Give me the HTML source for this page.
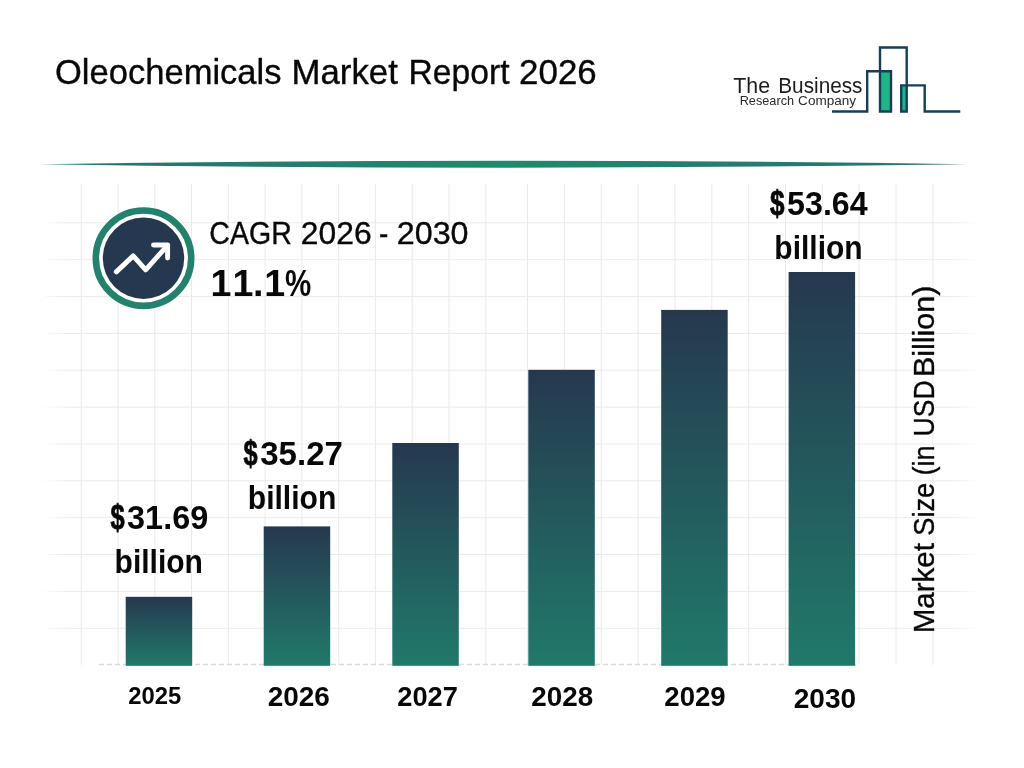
<!DOCTYPE html>
<html lang="en">
<head>
<meta charset="utf-8">
<title>Oleochemicals Market Report 2026</title>
<style>
html,body{margin:0;padding:0;background:#fff;}
body{width:1024px;height:768px;overflow:hidden;position:relative;font-family:"Liberation Sans",sans-serif;}
svg{position:absolute;left:0;top:0;display:block;}
text{font-family:"Liberation Sans",sans-serif;}
</style>
</head>
<body>
<svg width="1024" height="768" viewBox="0 0 1024 768">
<defs>
<linearGradient id="bar" x1="0" y1="0" x2="0" y2="1">
<stop offset="0" stop-color="#26384f"/>
<stop offset="1" stop-color="#21796a"/>
</linearGradient>
<linearGradient id="div" x1="0" y1="0" x2="1" y2="0">
<stop offset="0" stop-color="#2a6f70"/>
<stop offset="0.5" stop-color="#1f8a6c"/>
<stop offset="1" stop-color="#2a6f70"/>
</linearGradient>
<linearGradient id="fadeh" x1="0" y1="0" x2="1" y2="0">
<stop offset="0" stop-color="#fff" stop-opacity="1"/>
<stop offset="0.03" stop-color="#fff" stop-opacity="0"/>
<stop offset="0.97" stop-color="#fff" stop-opacity="0"/>
<stop offset="1" stop-color="#fff" stop-opacity="1"/>
</linearGradient>
</defs>
<rect width="1024" height="768" fill="#ffffff"/>

<!-- grid -->
<g id="grid" stroke="#eaeaeb" stroke-width="1" fill="none">
<path d="M44 222.8H976M44 259.7H976M44 296.5H976M44 333.4H976M44 370.2H976M44 407.1H976M44 444.0H976M44 480.8H976M44 517.7H976M44 554.5H976M44 591.4H976M44 628.3H976"/>
<path d="M81.2 184V665M118.0 184V665M154.8 184V665M191.5 184V665M228.3 184V665M265.1 184V665M301.9 184V665M338.7 184V665M375.4 184V665M412.2 184V665M449.0 184V665M485.8 184V665M932.9 184V665M896.0 184V665M859.1 184V665M822.3 184V665M785.5 184V665M748.6 184V665M711.8 184V665M674.9 184V665M638.0 184V665M601.2 184V665M564.4 184V665M527.5 184V665"/>
</g>
<rect x="40" y="180" width="940" height="490" fill="url(#fadeh)"/>
<path d="M99 664.5H856" stroke="#d9dadd" stroke-width="1.5" stroke-dasharray="5 3" fill="none"/>

<!-- divider -->
<path d="M40 164.3 Q503.5 157 967 164.3 Q503.5 171 40 164.3Z" fill="url(#div)"/>

<!-- title -->
<text y="84" font-size="35" fill="#080808" stroke="#080808" stroke-width="0.35"><tspan x="55.01" textLength="226.52" lengthAdjust="spacingAndGlyphs">Oleochemicals</tspan> <tspan x="291.51" textLength="106.36" lengthAdjust="spacingAndGlyphs">Market</tspan> <tspan x="408.58" textLength="100.98" lengthAdjust="spacingAndGlyphs">Report</tspan> <tspan x="519.1" textLength="77.67" lengthAdjust="spacingAndGlyphs">2026</tspan></text>

<!-- logo -->
<g id="logo">
<rect x="881" y="72" width="9.5" height="39" fill="#1fb585"/>
<rect x="902" y="86" width="4.5" height="25" fill="#1fb585"/>
<path d="M832 111.5H867.2V71.3H891V111.5H880V47.5H906.7V111.5H901.2V85.4H924.7V111.5H960.3" fill="none" stroke="#153f56" stroke-width="2.4" stroke-linejoin="miter"/>
<text y="92.8" font-size="22.5" fill="#1c1c1c"><tspan x="733.3" textLength="36.75" lengthAdjust="spacingAndGlyphs">The</tspan> <tspan x="778.28" textLength="84.2" lengthAdjust="spacingAndGlyphs">Business</tspan></text>
<text y="104.7" font-size="12.2" fill="#2a2a2a"><tspan x="739.66" textLength="54.43" lengthAdjust="spacingAndGlyphs">Research</tspan> <tspan x="798.1" textLength="58.0" lengthAdjust="spacingAndGlyphs">Company</tspan></text>
</g>

<!-- CAGR icon -->
<circle cx="143.5" cy="258.2" r="47.7" fill="#fff" stroke="#23816d" stroke-width="6.6"/>
<circle cx="143.5" cy="258.2" r="40.7" fill="#25384f"/>
<g fill="none" stroke="#fff" stroke-width="4.9" stroke-linecap="round" stroke-linejoin="round">
<path d="M116.3 271.9L133.2 255.9L145.7 269.8L167.6 245.3"/>
<path d="M153.5 245H167.6V258.1"/>
</g>
<text y="244.2" font-size="30.8" fill="#080808" stroke="#080808" stroke-width="0.35"><tspan x="209.37" textLength="82.36" lengthAdjust="spacingAndGlyphs">CAGR</tspan> <tspan x="300.87" textLength="70.77" lengthAdjust="spacingAndGlyphs">2026</tspan> <tspan x="379.1" textLength="9.28" lengthAdjust="spacingAndGlyphs">-</tspan> <tspan x="396.75" textLength="71.8" lengthAdjust="spacingAndGlyphs">2030</tspan></text>
<text y="295.9" font-size="37.6" font-weight="bold" fill="#080808"><tspan x="210.6">1</tspan><tspan x="232.5">1</tspan><tspan x="252.9">.</tspan><tspan x="264.3">1</tspan><tspan x="285.1" textLength="26.2" lengthAdjust="spacingAndGlyphs">%</tspan></text>

<!-- bars -->
<g fill="url(#bar)">
<rect x="125.7" y="596.8" width="66.5" height="69"/>
<rect x="263.7" y="526.4" width="66.5" height="139.4"/>
<rect x="392.3" y="443" width="66.5" height="222.8"/>
<rect x="528.3" y="369.8" width="66.5" height="296"/>
<rect x="661.2" y="309.9" width="66.5" height="355.9"/>
<rect x="788.6" y="272" width="66.5" height="393.8"/>
</g>

<!-- value labels -->
<text y="529" font-size="32.5" font-weight="bold" fill="#080808"><tspan x="110.40" font-size="35.6" stroke="#080808" stroke-width="0.8" textLength="14.14" lengthAdjust="spacingAndGlyphs">$</tspan><tspan x="127.1" textLength="81.14" lengthAdjust="spacingAndGlyphs">31.69</tspan></text>
<text x="114.55" y="572.8" font-size="32.5" font-weight="bold" fill="#080808" textLength="88.41" lengthAdjust="spacingAndGlyphs">billion</text>
<text y="465.2" font-size="32.5" font-weight="bold" fill="#080808"><tspan x="243.50" font-size="35.6" stroke="#080808" stroke-width="0.8" textLength="14.14" lengthAdjust="spacingAndGlyphs">$</tspan><tspan x="260.28" textLength="82.58" lengthAdjust="spacingAndGlyphs">35.27</tspan></text>
<text x="247.75" y="508.75" font-size="32.5" font-weight="bold" fill="#080808" textLength="88.62" lengthAdjust="spacingAndGlyphs">billion</text>
<text y="215.2" font-size="32.5" font-weight="bold" fill="#080808"><tspan x="770.10" font-size="35.6" stroke="#080808" stroke-width="0.8" textLength="14.52" lengthAdjust="spacingAndGlyphs">$</tspan><tspan x="787.11" textLength="80.54" lengthAdjust="spacingAndGlyphs">53.64</tspan></text>
<text x="774.36" y="258.75" font-size="32.5" font-weight="bold" fill="#080808" textLength="88.2" lengthAdjust="spacingAndGlyphs">billion</text>

<!-- year labels -->
<text x="128.3" y="704" font-size="24.4" font-weight="bold" fill="#080808" textLength="53.07" lengthAdjust="spacingAndGlyphs">2025</text>
<text x="267.69" y="706.3" font-size="27.7" font-weight="bold" fill="#080808" textLength="62.23" lengthAdjust="spacingAndGlyphs">2026</text>
<text x="397.32" y="706.3" font-size="27.7" font-weight="bold" fill="#080808" textLength="60.58" lengthAdjust="spacingAndGlyphs">2027</text>
<text x="531.3" y="706.3" font-size="27.7" font-weight="bold" fill="#080808" textLength="61.82" lengthAdjust="spacingAndGlyphs">2028</text>
<text x="664.3" y="706.3" font-size="27.7" font-weight="bold" fill="#080808" textLength="61.41" lengthAdjust="spacingAndGlyphs">2029</text>
<text x="793.69" y="707.5" font-size="27.7" font-weight="bold" fill="#080808" textLength="62.43" lengthAdjust="spacingAndGlyphs">2030</text>

<!-- axis label -->
<text y="0" font-size="30.4" fill="#080808" stroke="#080808" stroke-width="0.35" transform="translate(934 631.4) rotate(-90)"><tspan x="-1.94" textLength="90.24" lengthAdjust="spacingAndGlyphs">Market</tspan> <tspan x="95.6" textLength="53.12" lengthAdjust="spacingAndGlyphs">Size</tspan> <tspan x="155.91" textLength="30.2" lengthAdjust="spacingAndGlyphs">(in</tspan> <tspan x="194.96" textLength="55.98" lengthAdjust="spacingAndGlyphs">USD</tspan> <tspan x="254.3" textLength="91.42" lengthAdjust="spacingAndGlyphs">Billion)</tspan></text>
</svg>
</body>
</html>
